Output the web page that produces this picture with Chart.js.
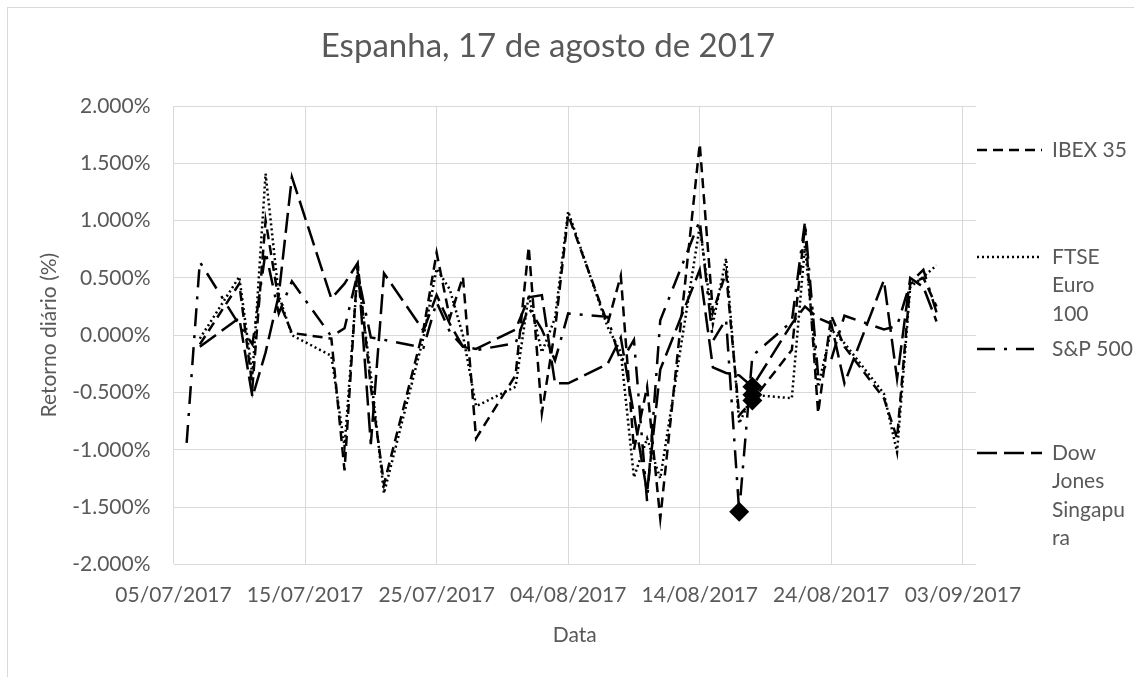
<!DOCTYPE html>
<html>
<head>
<meta charset="utf-8">
<title>Espanha, 17 de agosto de 2017</title>
<script src="https://cdn.jsdelivr.net/npm/chart.js@4.4.1/dist/chart.umd.min.js"></script>
<style>
  html, body { margin: 0; padding: 0; background: #fff; }
  #wrap { width: 1134px; height: 677px; }
</style>
</head>
<body>
<div id="wrap"><canvas id="chart" width="1134" height="677"></canvas></div>
<script>
// trading days shown on the chart
var dates = ['06/07/2017','07/07/2017','10/07/2017','11/07/2017','12/07/2017','13/07/2017','14/07/2017',
  '17/07/2017','18/07/2017','19/07/2017','20/07/2017','21/07/2017','24/07/2017','25/07/2017','26/07/2017',
  '27/07/2017','28/07/2017','31/07/2017','01/08/2017','02/08/2017','03/08/2017','04/08/2017','07/08/2017',
  '08/08/2017','09/08/2017','10/08/2017','11/08/2017','14/08/2017','15/08/2017','16/08/2017','17/08/2017',
  '18/08/2017','21/08/2017','22/08/2017','23/08/2017','24/08/2017','25/08/2017','28/08/2017','29/08/2017',
  '30/08/2017','31/08/2017','01/09/2017'];

// daily returns in %
var ibex35 = [null,-0.08,0.45,-0.45,1.00,0.30,0.02,-0.03,-1.18,0.62,-0.45,-1.30,0.05,0.72,0.15,0.51,-0.90,-0.35,
  0.77,-0.68,0.05,1.05,0.10,0.52,-1.00,-0.45,-1.60,1.67,0.20,0.55,-0.70,-0.57,-0.13,0.95,-0.68,0.17,-0.10,
  -0.55,-0.90,0.45,0.50,0.25];
var ftseEuro100 = [null,-0.03,0.51,-0.35,1.41,0.35,0.00,-0.18,-0.97,0.55,-0.35,-1.38,-0.02,0.58,0.40,0.00,-0.62,-0.45,
  0.35,-0.15,0.15,1.08,0.07,-0.15,-1.24,-0.90,-1.25,0.95,0.10,0.67,-0.77,-0.52,-0.55,0.78,-0.45,0.05,-0.07,
  -0.51,-1.02,0.42,0.51,0.61];
var sp500 = [-0.94,0.64,0.09,-0.08,0.73,0.19,0.47,-0.01,0.06,0.54,-0.02,-0.04,-0.11,0.29,0.03,-0.10,-0.13,-0.07,
  0.24,0.05,-0.22,0.19,0.16,-0.24,-0.04,-1.45,0.13,1.00,-0.05,0.14,-1.54,-0.18,0.12,0.99,-0.35,-0.21,0.17,
  0.05,0.08,0.46,0.57,0.20];
var dowJonesSing = [null,-0.10,0.15,-0.54,-0.15,0.35,1.38,0.32,0.45,0.63,-0.95,0.54,0.04,0.35,0.10,-0.10,-0.12,0.05,
  0.33,0.35,-0.42,-0.42,-0.25,-0.02,null,-1.37,-0.30,0.57,-0.28,-0.33,-0.35,-0.45,0.10,0.25,0.15,0.10,-0.42,
  0.48,-0.38,0.50,0.42,0.12];

var seriesNames = ['IBEX 35', 'FTSE Euro 100', 'S&P 500', 'Dow Jones Singapura'];
var legendLines = [['IBEX 35'], ['FTSE', 'Euro', '100'], ['S&P 500'], ['Dow', 'Jones', 'Singapu', 'ra']];
var markDates = ['18/08/2017', '18/08/2017', '17/08/2017', '18/08/2017'];
var xTickDays = [0, 10, 20, 30, 40, 50, 60];

var FONT = 'Lato, "Open Sans", sans-serif';
var GREY = '#595959';
var startDate = Date.UTC(2017, 6, 5);

function dayOf(s) {
    var p = s.split('/');
    return (Date.UTC(+p[2], +p[1] - 1, +p[0]) - startDate) / 864e5;
}
function pad(n) { return (n < 10 ? '0' : '') + n; }
function fmtDay(v) {
    var d = new Date(startDate + v * 864e5);
    return pad(d.getUTCDate()) + '/' + pad(d.getUTCMonth() + 1) + '/' + d.getUTCFullYear();
}

function makeSet(i, values, dash, cap) {
    var pts = [];
    var radii = [];
    dates.forEach(function (d, k) {
        pts.push({ x: dayOf(d), y: values[k] });
        radii.push(d === markDates[i] ? 10 : 0);
    });
    return {
        label: seriesNames[i],
        data: pts,
        borderColor: '#000',
        backgroundColor: '#000',
        borderWidth: 2.5,
        borderDash: dash,
        borderCapStyle: cap || 'butt',
        tension: 0,
        spanGaps: true,
        pointStyle: 'rectRot',
        pointRadius: radii,
        pointHoverRadius: radii,
        pointBorderWidth: 0,
        pointBackgroundColor: '#000'
    };
}

// title, legend and frame are drawn by hand so they can sit where Excel put them
var decor = {
    id: 'decor',
    beforeDraw: function (chart) {
        var c = chart.ctx;
        c.save();
        c.fillStyle = '#fff';
        c.fillRect(0, 0, chart.width, chart.height);
        c.strokeStyle = '#d9d9d9';
        c.lineWidth = 1;
        c.strokeRect(7.5, 7.5, chart.width + 10, chart.height + 10);
        c.restore();
    },
    afterDraw: function (chart) {
        var c = chart.ctx;
        c.save();
        c.fillStyle = GREY;
        c.textBaseline = 'middle';
        c.textAlign = 'center';
        c.font = '33px ' + FONT;
        c.fillText('Espanha, 17 de agosto de 2017', 548, 46);

        var rows = [150, 257, 349, 453];
        c.textAlign = 'left';
        c.font = '21px ' + FONT;
        chart.data.datasets.forEach(function (ds, i) {
            var y = rows[i];
            c.strokeStyle = '#000';
            c.lineWidth = 2.5;
            c.lineCap = ds.borderCapStyle;
            c.setLineDash(ds.borderDash);
            c.beginPath();
            c.moveTo(977, y);
            c.lineTo(1042, y);
            c.stroke();
            c.setLineDash([]);
            legendLines[i].forEach(function (t, k) {
                c.fillText(t, 1052, y + k * 28.5);
            });
        });
        c.restore();
    }
};

var ctx = document.getElementById('chart');
new Chart(ctx, {
    type: 'line',
    data: {
        datasets: [
            makeSet(0, ibex35, [10, 6]),
            makeSet(1, ftseEuro100, [2, 3]),
            makeSet(2, sp500, [18, 9, 3, 9]),
            makeSet(3, dowJonesSing, [20, 7])
        ]
    },
    options: {
        responsive: false,
        animation: false,
        events: [],
        layout: { padding: { left: 37, right: 158, top: 106, bottom: 25 } },
        plugins: {
            legend: { display: false },
            title: { display: false },
            tooltip: { enabled: false }
        },
        scales: {
            x: {
                type: 'linear',
                min: 0,
                max: 61,
                afterBuildTicks: function (s) {
                    s.ticks = xTickDays.map(function (v) { return { value: v }; });
                },
                afterFit: function (s) { s.height = 87.6; },
                grid: { color: '#d9d9d9', lineWidth: 1, drawTicks: false },
                border: { display: false },
                ticks: {
                    autoSkip: false,
                    maxRotation: 0,
                    padding: 18,
                    color: GREY,
                    font: { family: FONT, size: 21 },
                    callback: function (v) { return fmtDay(v); }
                },
                title: {
                    display: true,
                    text: 'Data',
                    color: GREY,
                    font: { family: FONT, size: 21 },
                    padding: { top: 0, bottom: 4 }
                }
            },
            y: {
                min: -2,
                max: 2,
                afterFit: function (s) { s.width = 136.5; },
                grid: { color: '#d9d9d9', lineWidth: 1, drawTicks: false },
                border: { display: false },
                ticks: {
                    stepSize: 0.5,
                    padding: 23,
                    color: GREY,
                    font: { family: FONT, size: 21 },
                    callback: function (v) { return v.toFixed(3) + '%'; }
                },
                title: {
                    display: true,
                    text: 'Retorno diário (%)',
                    color: GREY,
                    font: { family: FONT, size: 21 },
                    padding: 0
                }
            }
        }
    },
    plugins: [decor]
});
</script>
</body>
</html>
